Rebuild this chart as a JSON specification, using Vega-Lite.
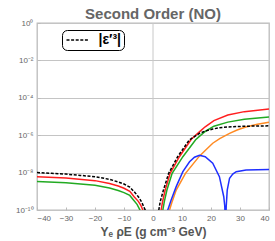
{
  "$schema": "https://vega.github.io/schema/vega-lite/v6.json",
  "width": 232,
  "height": 187,
  "autosize": {"type": "none"},
  "padding": {"left": 37, "top": 23, "right": 6, "bottom": 31},
  "title": {"text": "Second Order (NO)", "fontSize": 15, "fontWeight": "bold", "color": "#666666", "font": "Liberation Sans", "offset": -3},
  "config": {
    "view": {"stroke": "#bbbbbb", "strokeWidth": 1.3},
    "axis": {
      "domain": false,
      "tickColor": "#bbbbbb",
      "tickSize": -3,
      "labelFont": "Liberation Sans",
      "labelFontSize": 8,
      "labelColor": "#666666",
      "titleFont": "Liberation Sans",
      "titleColor": "#555555",
      "titleFontWeight": "bold",
      "titleFontSize": 12
    },
    "axisX": {"grid": false},
    "axisY": {"grid": true, "gridColor": "#c4c4c4", "gridWidth": 1, "gridOpacity": 1}
  },
  "data": {
    "values": [
      {"s": "eps", "b": "L", "x": -40, "y": 1.0e-8},
      {"s": "eps", "b": "L", "x": -35, "y": 9.12e-9},
      {"s": "eps", "b": "L", "x": -30, "y": 8.32e-9},
      {"s": "eps", "b": "L", "x": -25, "y": 7.08e-9},
      {"s": "eps", "b": "L", "x": -20, "y": 6.03e-9},
      {"s": "eps", "b": "L", "x": -15, "y": 4.37e-9},
      {"s": "eps", "b": "L", "x": -12, "y": 3.16e-9},
      {"s": "eps", "b": "L", "x": -10, "y": 2.45e-9},
      {"s": "eps", "b": "L", "x": -8, "y": 1.66e-9},
      {"s": "eps", "b": "L", "x": -6.5, "y": 9.55e-10},
      {"s": "eps", "b": "L", "x": -5, "y": 5.01e-10},
      {"s": "eps", "b": "L", "x": -4, "y": 2.82e-10},
      {"s": "eps", "b": "L", "x": -3.2, "y": 1.51e-10},
      {"s": "eps", "b": "L", "x": -2.7, "y": 1.0e-10},
      {"s": "eps", "b": "L", "x": -2.3, "y": 3.16e-11},
      {"s": "eps", "b": "R", "x": 1.7, "y": 3.16e-11},
      {"s": "eps", "b": "R", "x": 2.0, "y": 1.0e-10},
      {"s": "eps", "b": "R", "x": 2.5, "y": 2.82e-10},
      {"s": "eps", "b": "R", "x": 3.6, "y": 1.17e-9},
      {"s": "eps", "b": "R", "x": 5.4, "y": 9.12e-9},
      {"s": "eps", "b": "R", "x": 8.5, "y": 7.08e-8},
      {"s": "eps", "b": "R", "x": 12.5, "y": 5.5e-7},
      {"s": "eps", "b": "R", "x": 16, "y": 1.26e-6},
      {"s": "eps", "b": "R", "x": 18, "y": 1.66e-6},
      {"s": "eps", "b": "R", "x": 20.6, "y": 2.14e-6},
      {"s": "eps", "b": "R", "x": 23, "y": 2.51e-6},
      {"s": "eps", "b": "R", "x": 26, "y": 2.75e-6},
      {"s": "eps", "b": "R", "x": 31.5, "y": 3.02e-6},
      {"s": "eps", "b": "R", "x": 40, "y": 3.16e-6},
      {"s": "red", "b": "L", "x": -40, "y": 6.03e-9},
      {"s": "red", "b": "L", "x": -30, "y": 5.13e-9},
      {"s": "red", "b": "L", "x": -20, "y": 3.72e-9},
      {"s": "red", "b": "L", "x": -15, "y": 2.63e-9},
      {"s": "red", "b": "L", "x": -12, "y": 1.91e-9},
      {"s": "red", "b": "L", "x": -10, "y": 1.45e-9},
      {"s": "red", "b": "L", "x": -8, "y": 1.0e-9},
      {"s": "red", "b": "L", "x": -6.5, "y": 5.13e-10},
      {"s": "red", "b": "L", "x": -5, "y": 2.82e-10},
      {"s": "red", "b": "L", "x": -4.2, "y": 1.78e-10},
      {"s": "red", "b": "L", "x": -3.5, "y": 1.0e-10},
      {"s": "red", "b": "L", "x": -3.0, "y": 3.16e-11},
      {"s": "red", "b": "R", "x": 2.4, "y": 3.16e-11},
      {"s": "red", "b": "R", "x": 2.8, "y": 1.0e-10},
      {"s": "red", "b": "R", "x": 3.3, "y": 2.82e-10},
      {"s": "red", "b": "R", "x": 4.2, "y": 1.17e-9},
      {"s": "red", "b": "R", "x": 5.9, "y": 9.12e-9},
      {"s": "red", "b": "R", "x": 9.1, "y": 7.08e-8},
      {"s": "red", "b": "R", "x": 13.2, "y": 6.03e-7},
      {"s": "red", "b": "R", "x": 16, "y": 1.51e-6},
      {"s": "red", "b": "R", "x": 18, "y": 2.82e-6},
      {"s": "red", "b": "R", "x": 21, "y": 6.03e-6},
      {"s": "red", "b": "R", "x": 25.8, "y": 1.2e-5},
      {"s": "red", "b": "R", "x": 31.5, "y": 1.82e-5},
      {"s": "red", "b": "R", "x": 40, "y": 2.51e-5},
      {"s": "green", "b": "L", "x": -40, "y": 3.39e-9},
      {"s": "green", "b": "L", "x": -30, "y": 2.88e-9},
      {"s": "green", "b": "L", "x": -20, "y": 2.09e-9},
      {"s": "green", "b": "L", "x": -15, "y": 1.51e-9},
      {"s": "green", "b": "L", "x": -12, "y": 1.1e-9},
      {"s": "green", "b": "L", "x": -10, "y": 8.51e-10},
      {"s": "green", "b": "L", "x": -8, "y": 6.03e-10},
      {"s": "green", "b": "L", "x": -6.8, "y": 3.55e-10},
      {"s": "green", "b": "L", "x": -5.5, "y": 2.0e-10},
      {"s": "green", "b": "L", "x": -4.5, "y": 1.0e-10},
      {"s": "green", "b": "L", "x": -4.0, "y": 3.16e-11},
      {"s": "green", "b": "R", "x": 3.0, "y": 3.16e-11},
      {"s": "green", "b": "R", "x": 3.4, "y": 1.0e-10},
      {"s": "green", "b": "R", "x": 3.9, "y": 2.82e-10},
      {"s": "green", "b": "R", "x": 4.8, "y": 1.17e-9},
      {"s": "green", "b": "R", "x": 6.6, "y": 9.12e-9},
      {"s": "green", "b": "R", "x": 10.3, "y": 7.08e-8},
      {"s": "green", "b": "R", "x": 14.7, "y": 5.75e-7},
      {"s": "green", "b": "R", "x": 16, "y": 8.71e-7},
      {"s": "green", "b": "R", "x": 18, "y": 1.58e-6},
      {"s": "green", "b": "R", "x": 21, "y": 3.02e-6},
      {"s": "green", "b": "R", "x": 25.8, "y": 5.01e-6},
      {"s": "green", "b": "R", "x": 31.5, "y": 7.08e-6},
      {"s": "green", "b": "R", "x": 40, "y": 9.33e-6},
      {"s": "orange", "b": "R", "x": 5.2, "y": 3.16e-11},
      {"s": "orange", "b": "R", "x": 5.7, "y": 1.0e-10},
      {"s": "orange", "b": "R", "x": 6.5, "y": 2.51e-10},
      {"s": "orange", "b": "R", "x": 8.0, "y": 1.17e-9},
      {"s": "orange", "b": "R", "x": 11.2, "y": 9.12e-9},
      {"s": "orange", "b": "R", "x": 16, "y": 7.59e-8},
      {"s": "orange", "b": "R", "x": 18, "y": 1.51e-7},
      {"s": "orange", "b": "R", "x": 20.6, "y": 3.72e-7},
      {"s": "orange", "b": "R", "x": 23, "y": 6.61e-7},
      {"s": "orange", "b": "R", "x": 26.4, "y": 1.26e-6},
      {"s": "orange", "b": "R", "x": 29, "y": 1.91e-6},
      {"s": "orange", "b": "R", "x": 32, "y": 2.75e-6},
      {"s": "orange", "b": "R", "x": 36, "y": 3.8e-6},
      {"s": "orange", "b": "R", "x": 40, "y": 4.9e-6},
      {"s": "blue", "b": "R", "x": 4.7, "y": 3.16e-11},
      {"s": "blue", "b": "R", "x": 5.1, "y": 1.0e-10},
      {"s": "blue", "b": "R", "x": 6.26, "y": 3.39e-10},
      {"s": "blue", "b": "R", "x": 8.0, "y": 1.78e-9},
      {"s": "blue", "b": "R", "x": 10.3, "y": 1.12e-8},
      {"s": "blue", "b": "R", "x": 12.6, "y": 3.8e-8},
      {"s": "blue", "b": "R", "x": 14.3, "y": 6.61e-8},
      {"s": "blue", "b": "R", "x": 16, "y": 8.51e-8},
      {"s": "blue", "b": "R", "x": 18, "y": 7.08e-8},
      {"s": "blue", "b": "R", "x": 20.6, "y": 3.16e-8},
      {"s": "blue", "b": "R", "x": 22.9, "y": 6.03e-9},
      {"s": "blue", "b": "R", "x": 24.4, "y": 5.13e-10},
      {"s": "blue", "b": "R", "x": 24.75, "y": 1.58e-10},
      {"s": "blue", "b": "R", "x": 25.0, "y": 1.0e-11},
      {"s": "blue", "b": "R", "x": 25.25, "y": 1.58e-10},
      {"s": "blue", "b": "R", "x": 25.6, "y": 1.17e-9},
      {"s": "blue", "b": "R", "x": 26.4, "y": 5.01e-9},
      {"s": "blue", "b": "R", "x": 27.5, "y": 8.32e-9},
      {"s": "blue", "b": "R", "x": 28.7, "y": 1.12e-8},
      {"s": "blue", "b": "R", "x": 32.1, "y": 1.38e-8},
      {"s": "blue", "b": "R", "x": 40, "y": 1.45e-8}
    ]
  },
  "layer": [
    {
      "data": {"values": [{"x0": 0}]},
      "mark": {"type": "rule", "color": "#c8c8c8", "strokeWidth": 1},
      "encoding": {
        "x": {"field": "x0", "type": "quantitative", "scale": {"domain": [-40, 40], "nice": false},
          "axis": {"values": [-40, -30, -20, -10, 0, 10, 20, 30, 40], "labelPadding": 7, "title": "Yₑ ρE (g cm⁻³ GeV)", "titlePadding": 4}}
      }
    },
    {
      "transform": [{"filter": "datum.s != 'eps'"}],
      "mark": {"type": "line", "clip": true, "strokeWidth": 1.5},
      "encoding": {
        "x": {
          "field": "x", "type": "quantitative",
          "scale": {"domain": [-40, 40], "nice": false},
          "axis": {"values": [-40, -30, -20, -10, 0, 10, 20, 30, 40], "labelPadding": 7, "title": "Yₑ ρE (g cm⁻³ GeV)", "titlePadding": 4}
        },
        "y": {
          "field": "y", "type": "quantitative",
          "scale": {"type": "log", "domain": [1e-10, 1], "nice": false},
          "axis": {
            "values": [1, 0.01, 0.0001, 1e-6, 1e-8, 1e-10],
            "grid": true, "gridColor": "#c4c4c4", "gridWidth": 1,
            "labelPadding": 7,
            "labelExpr": "datum.value > 0.1 ? '10⁰' : datum.value > 1e-3 ? '10⁻²' : datum.value > 1e-5 ? '10⁻⁴' : datum.value > 1e-7 ? '10⁻⁶' : datum.value > 1e-9 ? '10⁻⁸' : '10⁻¹⁰'",
            "title": null
          }
        },
        "color": {"field": "s", "type": "nominal", "scale": {"domain": ["blue", "orange", "green", "red"], "range": ["#1f2fff", "#ff8a22", "#22aa22", "#ff1f1f"]}, "legend": null},
        "detail": {"field": "b"},
        "order": {"field": "x", "type": "quantitative"}
      }
    },
    {
      "transform": [{"filter": "datum.s == 'eps'"}],
      "mark": {"type": "line", "clip": true, "strokeWidth": 1.5, "color": "#000000"},
      "encoding": {
        "x": {
          "field": "x", "type": "quantitative",
          "scale": {"domain": [-40, 40], "nice": false},
          "axis": {"values": [-40, -30, -20, -10, 0, 10, 20, 30, 40], "labelPadding": 7, "title": "Yₑ ρE (g cm⁻³ GeV)", "titlePadding": 4}
        },
        "y": {
          "field": "y", "type": "quantitative",
          "scale": {"type": "log", "domain": [1e-10, 1], "nice": false},
          "axis": {
            "values": [1, 0.01, 0.0001, 1e-6, 1e-8, 1e-10],
            "grid": true, "gridColor": "#c4c4c4", "gridWidth": 1,
            "labelPadding": 7,
            "labelExpr": "datum.value > 0.1 ? '10⁰' : datum.value > 1e-3 ? '10⁻²' : datum.value > 1e-5 ? '10⁻⁴' : datum.value > 1e-7 ? '10⁻⁶' : datum.value > 1e-9 ? '10⁻⁸' : '10⁻¹⁰'",
            "title": null
          }
        },
        "strokeDash": {"field": "s", "type": "nominal", "scale": {"domain": ["eps"], "range": [[3, 1.6]]},
          "legend": {
            "title": null, "orient": "none", "legendX": 25, "legendY": 7,
            "labelExpr": "'|ε′³|'", "labelFont": "Liberation Sans", "labelFontWeight": "bold", "labelFontSize": 14, "labelColor": "#000000",
            "symbolType": "M-2,0H2", "symbolSize": 121, "symbolStrokeWidth": 1.5, "symbolStrokeColor": "#000000", "symbolOffset": 5.5, "labelOffset": 14,
            "padding": 3, "cornerRadius": 5, "strokeColor": "#000000", "fillColor": "#ffffff"
          }},
        "detail": {"field": "b"},
        "order": {"field": "x", "type": "quantitative"}
      }
    }
  ]
}
